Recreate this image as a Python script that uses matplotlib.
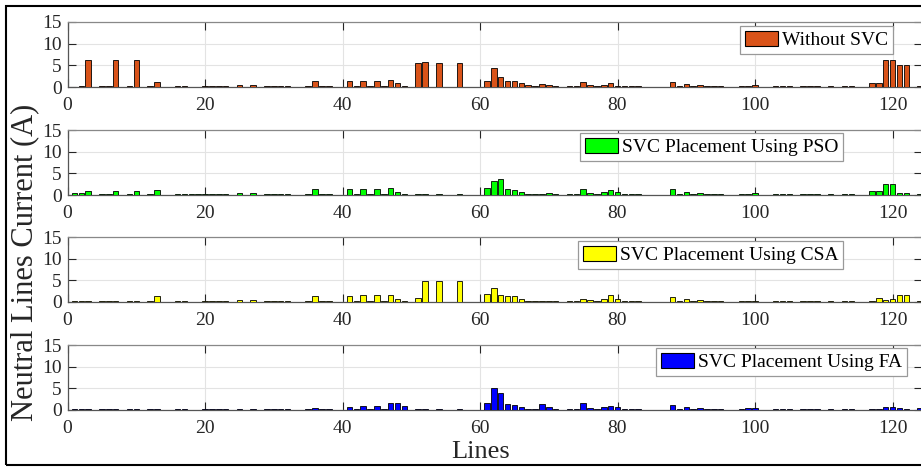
import numpy as np
import matplotlib
matplotlib.use("Agg")
import matplotlib.pyplot as plt
from matplotlib.patches import Rectangle, Patch

plt.rcParams['font.family'] = ['Liberation Serif', 'DejaVu Serif']

# line numbers 1..124
lines = list(range(1, 125))

without_svc = [
    0.1, 0.3, 6.2, 0.0, 0.3, 0.3, 6.2, 0.1, 0.2, 6.2,
    0.0, 0.3, 1.1, 0.0, 0.0, 0.2, 0.2, 0.1, 0.1, 0.2,
    0.3, 0.3, 0.3, 0.0, 0.4, 0.0, 0.4, 0.1, 0.2, 0.2,
    0.2, 0.2, 0.0, 0.1, 0.2, 1.3, 0.2, 0.2, 0.0, 0.0,
    1.3, 0.2, 1.5, 0.2, 1.5, 0.2, 1.7, 0.9, 0.2, 0.0,
    5.6, 5.8, 0.0, 5.6, 0.1, 0.1, 5.6, 0.1, 0.0, 0.0,
    1.5, 4.4, 2.3, 1.4, 1.3, 0.9, 0.4, 0.3, 0.7, 0.4,
    0.2, 0.0, 0.3, 0.3, 1.1, 0.5, 0.3, 0.5, 1.0, 0.3,
    0.2, 0.2, 0.2, 0.0, 0.0, 0.0, 0.0, 1.1, 0.2, 0.7,
    0.3, 0.4, 0.2, 0.2, 0.2, 0.1, 0.1, 0.3, 0.3, 0.4,
    0.0, 0.0, 0.2, 0.2, 0.2, 0.0, 0.2, 0.2, 0.2, 0.0,
    0.2, 0.0, 0.2, 0.2, 0.0, 0.0, 0.9, 0.9, 6.2, 6.2,
    5.0, 5.0, 0.0, 0.3,
]

pso = [
    0.4, 0.4, 1.0, 0.0, 0.3, 0.3, 1.0, 0.1, 0.2, 1.0,
    0.0, 0.3, 1.2, 0.0, 0.0, 0.2, 0.2, 0.2, 0.2, 0.2,
    0.3, 0.3, 0.2, 0.0, 0.4, 0.0, 0.4, 0.1, 0.2, 0.2,
    0.2, 0.2, 0.0, 0.1, 0.2, 1.3, 0.2, 0.2, 0.0, 0.0,
    1.3, 0.2, 1.5, 0.2, 1.5, 0.2, 1.6, 0.6, 0.2, 0.0,
    0.3, 0.3, 0.0, 0.3, 0.1, 0.1, 0.3, 0.1, 0.0, 0.0,
    1.6, 3.2, 3.6, 1.3, 1.2, 0.7, 0.3, 0.2, 0.3, 0.4,
    0.2, 0.0, 0.2, 0.3, 1.5, 0.5, 0.3, 0.8, 1.2, 0.7,
    0.2, 0.2, 0.2, 0.0, 0.0, 0.0, 0.0, 1.3, 0.2, 0.7,
    0.3, 0.4, 0.2, 0.2, 0.2, 0.1, 0.1, 0.3, 0.3, 0.4,
    0.0, 0.0, 0.2, 0.2, 0.2, 0.0, 0.2, 0.2, 0.2, 0.0,
    0.2, 0.0, 0.2, 0.2, 0.0, 0.0, 0.9, 0.9, 2.6, 2.6,
    0.4, 0.4, 0.0, 0.3,
]

csa = [
    0.2, 0.3, 0.3, 0.0, 0.3, 0.3, 0.3, 0.1, 0.2, 0.2,
    0.0, 0.2, 1.3, 0.0, 0.0, 0.2, 0.2, 0.1, 0.1, 0.2,
    0.3, 0.3, 0.2, 0.0, 0.4, 0.0, 0.4, 0.1, 0.2, 0.2,
    0.2, 0.2, 0.0, 0.1, 0.2, 1.5, 0.2, 0.2, 0.0, 0.0,
    1.5, 0.2, 1.6, 0.2, 1.6, 0.2, 1.6, 0.6, 0.2, 0.0,
    1.0, 4.8, 0.0, 4.8, 0.1, 0.1, 4.8, 0.1, 0.0, 0.0,
    1.9, 3.2, 1.6, 1.3, 1.3, 0.8, 0.3, 0.2, 0.3, 0.3,
    0.2, 0.0, 0.2, 0.3, 0.6, 0.4, 0.3, 0.8, 1.7, 0.6,
    0.2, 0.2, 0.2, 0.0, 0.0, 0.0, 0.0, 1.2, 0.2, 0.7,
    0.3, 0.4, 0.2, 0.2, 0.2, 0.1, 0.1, 0.3, 0.3, 0.3,
    0.0, 0.0, 0.2, 0.2, 0.2, 0.0, 0.2, 0.2, 0.2, 0.0,
    0.2, 0.0, 0.2, 0.2, 0.0, 0.0, 0.3, 1.0, 0.5, 0.8,
    1.6, 1.6, 0.0, 0.3,
]

fa = [
    0.2, 0.3, 0.2, 0.0, 0.3, 0.3, 0.2, 0.1, 0.2, 0.2,
    0.0, 0.2, 0.2, 0.0, 0.0, 0.2, 0.2, 0.1, 0.1, 0.2,
    0.3, 0.3, 0.2, 0.0, 0.3, 0.0, 0.3, 0.1, 0.2, 0.2,
    0.2, 0.2, 0.0, 0.1, 0.2, 0.4, 0.2, 0.2, 0.0, 0.0,
    0.6, 0.2, 0.9, 0.2, 0.9, 0.2, 1.6, 1.6, 1.0, 0.0,
    0.2, 0.2, 0.0, 0.2, 0.1, 0.1, 0.2, 0.1, 0.0, 0.0,
    1.6, 5.0, 4.0, 1.4, 1.1, 0.6, 0.2, 0.2, 1.4, 0.7,
    0.2, 0.0, 0.2, 0.3, 1.6, 0.5, 0.3, 0.7, 1.0, 0.7,
    0.2, 0.2, 0.2, 0.0, 0.0, 0.0, 0.0, 1.1, 0.2, 0.7,
    0.3, 0.4, 0.2, 0.2, 0.2, 0.1, 0.1, 0.3, 0.4, 0.4,
    0.0, 0.0, 0.2, 0.2, 0.2, 0.0, 0.2, 0.2, 0.2, 0.0,
    0.2, 0.0, 0.2, 0.2, 0.0, 0.0, 0.2, 0.2, 0.6, 0.6,
    0.4, 0.2, 0.0, 0.5,
]

series = [without_svc, pso, csa, fa]
labels = ["Without SVC", "SVC Placement Using PSO",
          "SVC Placement Using CSA", "SVC Placement Using FA"]
colors = ["#D95319", "#00FF00", "#FFFF00", "#0000FF"]

W, H = 921, 467
fig = plt.figure(figsize=(W / 100, H / 100), dpi=100)

# panel layout in pixels
tops = [22, 130, 237, 345]
ax_h = 65
left_px, right_px = 67.5, 922
# legend anchor (right, top) in pixels
leg_anchor = [(893, 26), (843, 133), (843, 241), (907, 348)]

for i, vals in enumerate(series):
    ax = fig.add_axes([left_px / W, 1 - (tops[i] + ax_h) / H,
                       (right_px - left_px) / W, ax_h / H])
    ax.bar(lines, vals, width=0.8, color=colors[i], edgecolor="black",
           linewidth=0.6, zorder=3)
    ax.set_xlim(0, (right_px - left_px) / 6.875)
    ax.set_ylim(0, 15)
    ax.set_xticks(range(0, 121, 20))
    ax.set_yticks([0, 5, 10, 15])
    ax.grid(True, color="#E3E3E3", linewidth=0.8, zorder=0)
    ax.tick_params(direction="in", length=6, width=0.8, top=True, right=True,
                   labelsize=14, colors="#262626", pad=4)
    ax.tick_params(axis="x", pad=7)
    for s in ax.spines.values():
        s.set_color("#555555")
        s.set_linewidth(0.9)
    ax.spines["top"].set_color("#888888")
    rx, ty = leg_anchor[i]
    h = Patch(facecolor=colors[i], edgecolor="black", linewidth=0.8)
    leg = ax.legend([h], [labels[i]], loc="upper right",
                    bbox_to_anchor=(rx / W, 1 - ty / H),
                    bbox_transform=fig.transFigure, borderaxespad=0,
                    fontsize=14, fancybox=False, framealpha=1,
                    edgecolor="#999999", handlelength=1.7, handleheight=0.8,
                    handletextpad=0.2, borderpad=0.25)
    leg.get_frame().set_linewidth(0.9)
    leg.set_zorder(5)

fig.text(25 / W, 1 - 262 / H, "Neutral Lines Current (A)", rotation=90,
         ha="center", va="center", fontsize=22, color="#262626")
fig.text(481 / W, 1 - 452 / H, "Lines", ha="center", va="center",
         fontsize=19, color="#262626")

# outer frame around the figure
fig.patches.append(Rectangle((6 / W, 2 / H), (W + 10) / W, (H - 8) / H,
                             transform=fig.transFigure, fill=False,
                             edgecolor="black", linewidth=1.5))

fig.savefig("out.png", dpi=100)
